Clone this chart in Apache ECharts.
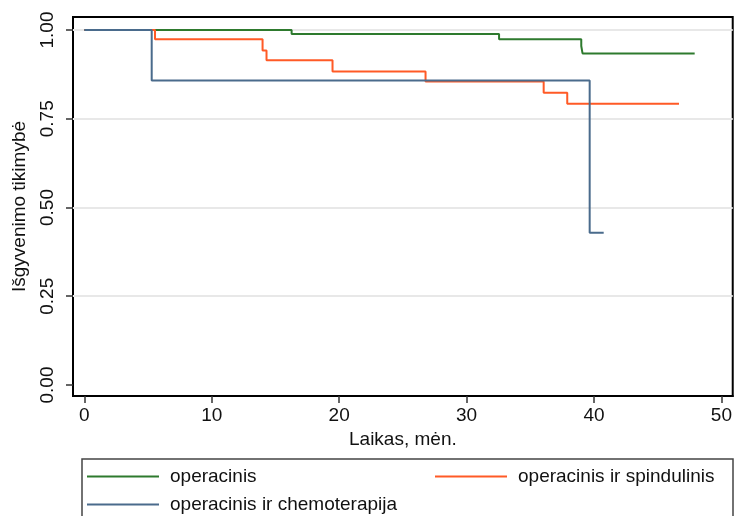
<!DOCTYPE html>
<html>
<head>
<meta charset="utf-8">
<script src="https://cdn.jsdelivr.net/npm/echarts@6/dist/echarts.min.js"></script>
<style>
  html, body { margin: 0; padding: 0; background: #fff; }
  #chart { width: 735px; height: 516px; }
</style>
</head>
<body>
<div id="chart"></div>
<script>
// Kaplan–Meier survival estimates by treatment group: [months, survival]
const seriesNames = ['operacinis', 'operacinis ir spindulinis', 'operacinis ir chemoterapija'];

const operacinis = [
  [0, 1.000], [16.27, 0.989], [32.55, 0.974], [39.0, 0.955], [39.1, 0.934], [47.9, 0.934]
];
const operacinisSpindulinis = [
  [0, 1.000], [5.55, 0.974], [13.99, 0.942], [14.3, 0.915], [19.48, 0.883],
  [26.78, 0.855], [36.05, 0.823], [37.9, 0.792], [46.67, 0.792]
];
const operacinisChemoterapija = [
  [0, 1.000], [5.29, 0.858], [39.66, 0.429], [40.76, 0.429]
];

const xTicks = [0, 10, 20, 30, 40, 50];
const yTicks = [0, 0.25, 0.5, 0.75, 1];
const yGridLines = [0.25, 0.5, 0.75, 1];

// Plot region is padded a little beyond the tick range on every side
const xRange = [-0.886, 50.886];
const yRange = [-0.031, 1.0366];

const colors = ['#2e7a2e', '#ff5a26', '#4a6b8c'];
const FONT = '"Liberation Sans", Arial, sans-serif';

const chart = echarts.init(document.getElementById('chart'), null, { renderer: 'canvas' });

function legendFor(idx, left, top) {
  return {
    data: [seriesNames[idx]],
    left: left, top: top, padding: 0,
    icon: 'rect', itemWidth: 72, itemHeight: 2,
    selectedMode: false,
    textStyle: { fontFamily: FONT, fontSize: 19, color: '#111', padding: [0, 0, 0, 6] }
  };
}

function kmSeries(idx, data, extra) {
  return Object.assign({
    name: seriesNames[idx], type: 'line', step: 'end', data: data, z: 3,
    showSymbol: false,
    lineStyle: { color: colors[idx], width: 2 },
    itemStyle: { color: colors[idx] }
  }, extra || {});
}

chart.setOption({
  animation: false,
  backgroundColor: '#fff',
  grid: {
    left: 73, right: 2, top: 17, bottom: 120, containLabel: false,
    show: true, borderColor: '#000', borderWidth: 2, backgroundColor: 'transparent'
  },
  xAxis: {
    type: 'value', min: xRange[0], max: xRange[1],
    name: 'Laikas, mėn.', nameLocation: 'middle', nameGap: 31,
    nameTextStyle: { fontFamily: FONT, fontSize: 19, color: '#111' },
    axisLine: { show: true, onZero: false, lineStyle: { color: '#000', width: 2 } },
    axisTick: { show: true, customValues: xTicks, length: 7, lineStyle: { color: '#333', width: 1.5 } },
    axisLabel: { customValues: xTicks, fontFamily: FONT, fontSize: 19, color: '#111', margin: 10 },
    splitLine: { show: false }
  },
  yAxis: {
    type: 'value', min: yRange[0], max: yRange[1],
    name: 'Išgyvenimo tikimybė', nameLocation: 'middle', nameGap: 44,
    nameRotate: 90,
    nameTextStyle: { fontFamily: FONT, fontSize: 19, color: '#111' },
    axisLine: { show: true, onZero: false, lineStyle: { color: '#000', width: 2 } },
    axisTick: { show: true, customValues: yTicks, length: 7, lineStyle: { color: '#333', width: 1.5 } },
    axisLabel: {
      customValues: yTicks,
      fontFamily: FONT, fontSize: 19, color: '#111', rotate: 90, margin: 16,
      formatter: v => v.toFixed(2)
    },
    splitLine: { show: false }
  },
  legend: [
    legendFor(0, 87, 467),
    legendFor(1, 435, 467),
    legendFor(2, 87, 495)
  ],
  graphic: [
    { type: 'rect', z: 10, silent: true,
      shape: { x: 82, y: 459, width: 651, height: 70 },
      style: { fill: 'none', stroke: '#444', lineWidth: 1.5 } }
  ],
  series: [
    kmSeries(0, operacinis, {
      markLine: {
        silent: true, symbol: 'none', z: 1,
        label: { show: false },
        lineStyle: { color: '#e8e8e8', width: 2, type: 'solid' },
        emphasis: { disabled: true },
        data: yGridLines.map(v => ({ yAxis: v }))
      }
    }),
    kmSeries(1, operacinisSpindulinis),
    kmSeries(2, operacinisChemoterapija)
  ]
});
</script>
</body>
</html>
